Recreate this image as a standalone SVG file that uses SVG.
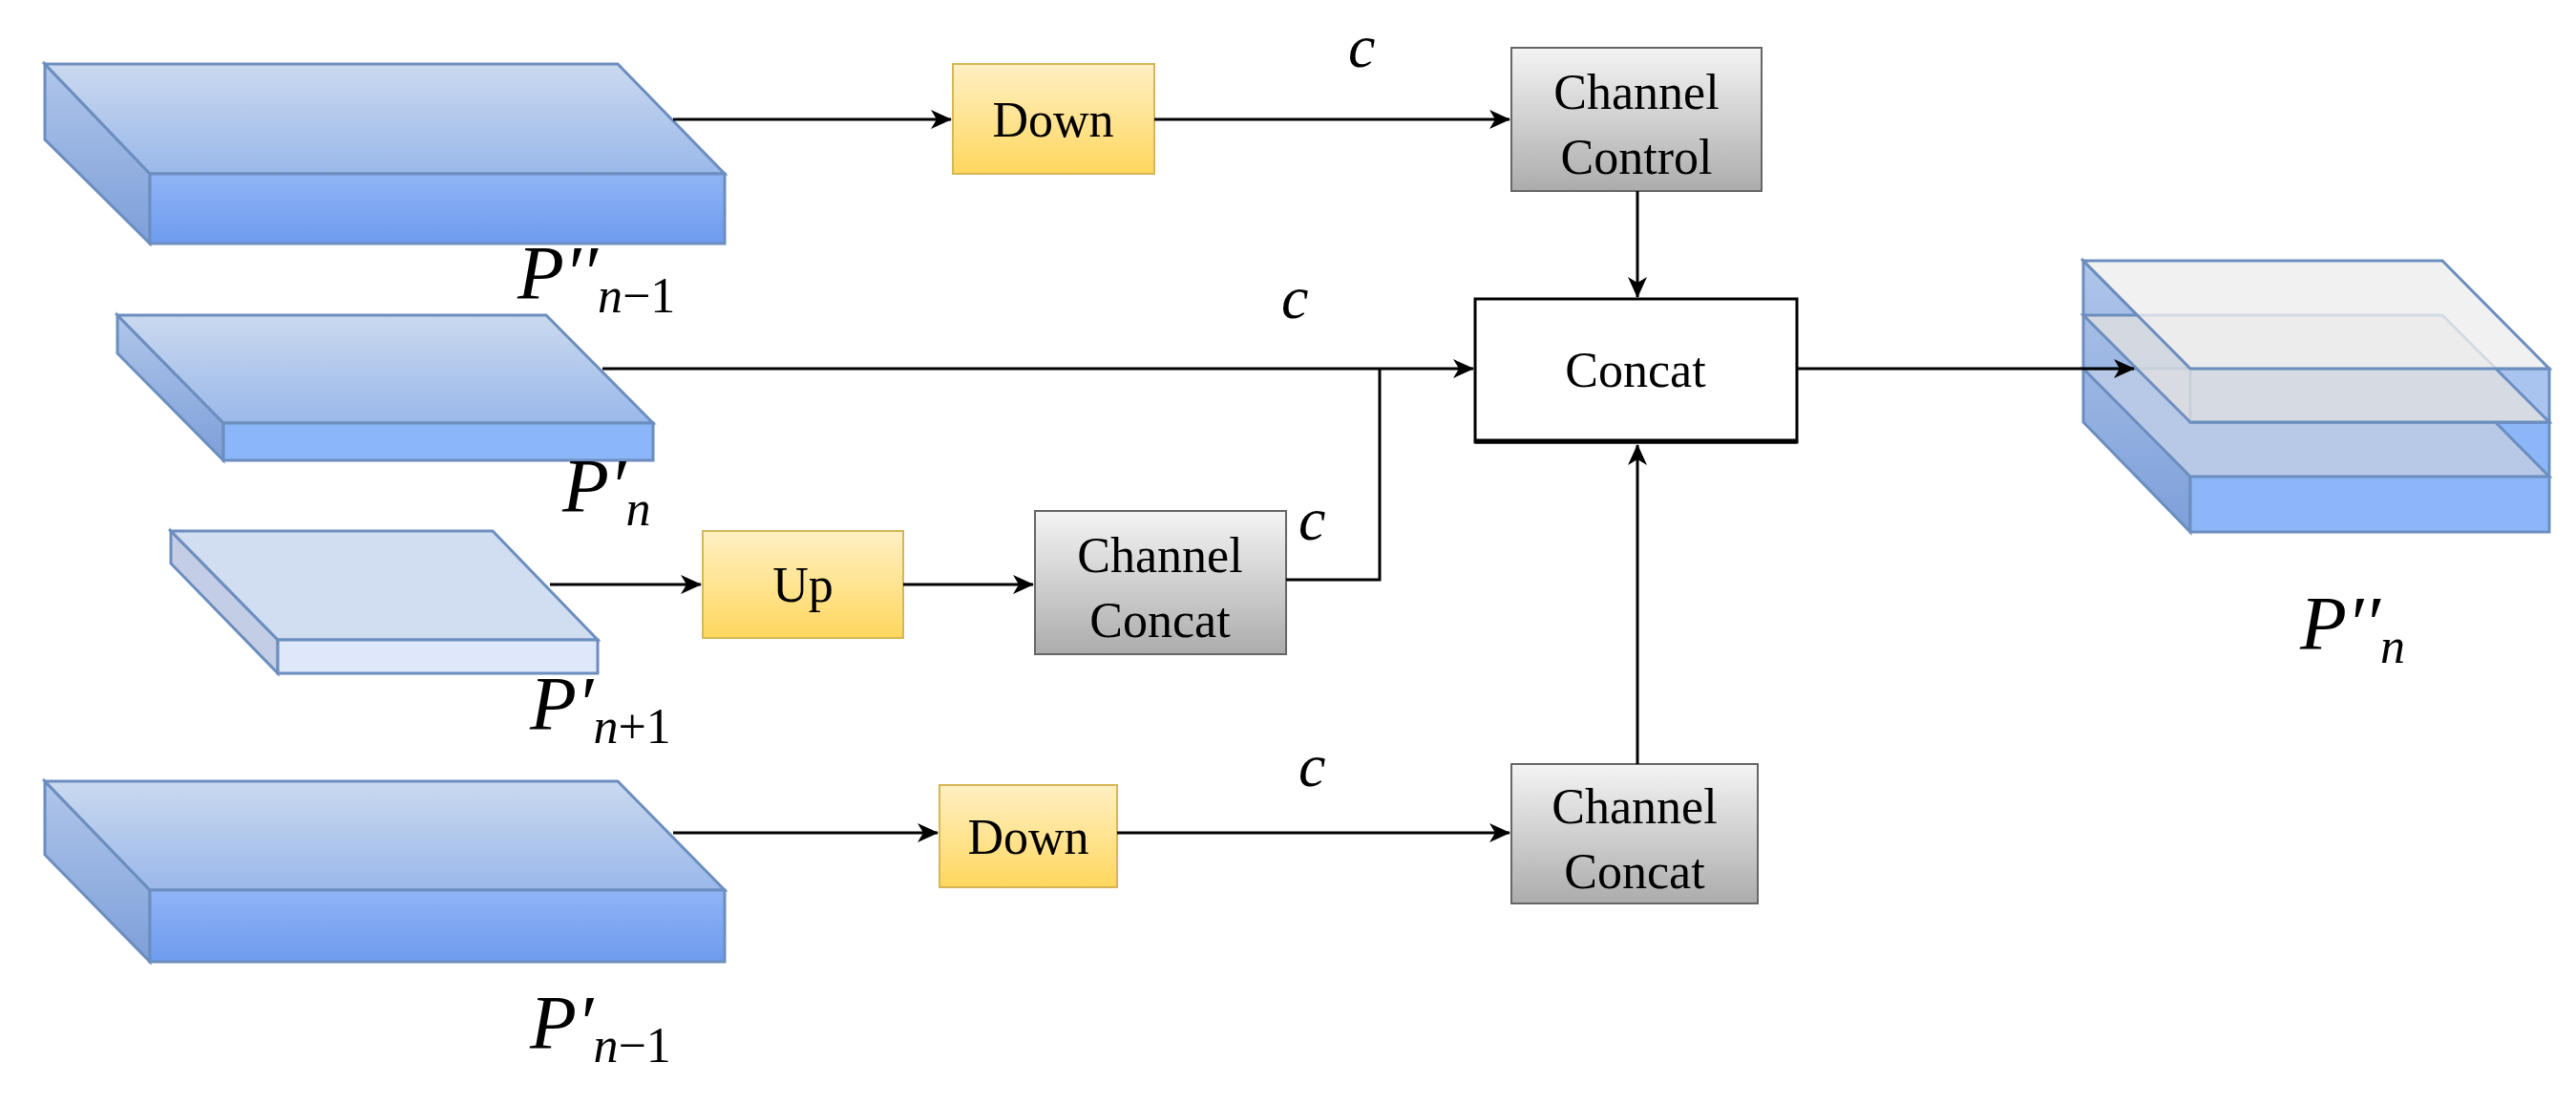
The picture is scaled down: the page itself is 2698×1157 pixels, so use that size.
<svg xmlns="http://www.w3.org/2000/svg" width="2698" height="1157" viewBox="0 0 2698 1157">
<defs>
<linearGradient id="gTop" x1="0" y1="0" x2="0" y2="1"><stop offset="0" stop-color="#cad9ef"/><stop offset="1" stop-color="#9ab8ea"/></linearGradient>
<linearGradient id="gFront" x1="0" y1="0" x2="0" y2="1"><stop offset="0" stop-color="#90b4f6"/><stop offset="1" stop-color="#6e9bee"/></linearGradient>
<linearGradient id="gSide" x1="0" y1="0" x2="0" y2="1"><stop offset="0" stop-color="#b0c6ea"/><stop offset="1" stop-color="#7d9fd9"/></linearGradient>
<linearGradient id="gY" x1="0" y1="0" x2="0" y2="1"><stop offset="0" stop-color="#fff0c4"/><stop offset="1" stop-color="#ffd75e"/></linearGradient>
<linearGradient id="gG" x1="0" y1="0" x2="0" y2="1"><stop offset="0" stop-color="#f4f4f4"/><stop offset="1" stop-color="#acacac"/></linearGradient>
<marker id="ah" markerWidth="22" markerHeight="20" refX="21" refY="10" orient="auto" markerUnits="userSpaceOnUse"><path d="M0,0 L22,10 L0,20 L6,10 Z" fill="#000"/></marker>
</defs>
<style>
.blk{stroke:#6c8ebf;stroke-width:3}
.yb{fill:url(#gY);stroke:#d6b656;stroke-width:2}
.gb{fill:url(#gG);stroke:#666;stroke-width:2}
.t{font-family:"Liberation Serif",serif;font-size:52px;fill:#000;text-anchor:middle}
.m{font-family:"Liberation Serif",serif;font-style:italic;fill:#000}
.c{font-family:"Liberation Serif",serif;font-style:italic;font-size:64px;fill:#000}
.ln{stroke:#000;stroke-width:3;fill:none}
</style>
<rect width="2698" height="1157" fill="#fff"/>
<g id="block1">
<polygon class="blk" fill="url(#gSide)" points="47,67 157,182 157,255 47,146"/>
<polygon class="blk" fill="url(#gTop)" points="47,67 647,67 759,182 157,182"/>
<rect class="blk" fill="url(#gFront)" x="157" y="182" width="602" height="73"/>
<text class="m" x="542" y="313" font-size="80">P′′<tspan font-size="52" dy="14">n<tspan font-style="normal">−1</tspan></tspan></text>
</g>
<g id="block2">
<polygon class="blk" fill="url(#gSide)" points="123,330 234,443 234,482 123,370"/>
<polygon class="blk" fill="url(#gTop)" points="123,330 572,330 684,443 234,443"/>
<rect class="blk" fill="#8bb6f7" x="234" y="443" width="450" height="39"/>
<text class="m" x="589" y="536" font-size="80">P′<tspan font-size="52" dy="14">n</tspan></text>
</g>
<g id="block3">
<polygon class="blk" fill="#c3cde6" points="179,556 291,670 291,705 179,590"/>
<polygon class="blk" fill="#d1ddf1" points="179,556 516,556 626,670 291,670"/>
<rect class="blk" fill="#dfe8fb" x="291" y="670" width="335" height="35"/>
<text class="m" x="555" y="764" font-size="80">P′<tspan font-size="52" dy="14">n<tspan font-style="normal">+1</tspan></tspan></text>
</g>
<g id="block4">
<polygon class="blk" fill="url(#gSide)" points="47,818 157,932 157,1007 47,895"/>
<polygon class="blk" fill="url(#gTop)" points="47,818 647,818 759,932 157,932"/>
<rect class="blk" fill="url(#gFront)" x="157" y="932" width="602" height="75"/>
<text class="m" x="555" y="1098" font-size="80">P′<tspan font-size="52" dy="14">n<tspan font-style="normal">−1</tspan></tspan></text>
</g>
<g id="down1"><rect class="yb" x="998" y="67" width="211" height="115"/><text class="t" x="1103" y="143">Down</text></g>
<g id="down2"><rect class="yb" x="984" y="822" width="186" height="107"/><text class="t" x="1077" y="894">Down</text></g>
<g id="up"><rect class="yb" x="736" y="556" width="210" height="112"/><text class="t" x="841" y="630">Up</text></g>
<g id="chcontrol"><rect class="gb" x="1583" y="50" width="262" height="150"/><text class="t" x="1714" y="114">Channel</text><text class="t" x="1714" y="182">Control</text></g>
<g id="chconcat1"><rect class="gb" x="1084" y="535" width="263" height="150"/><text class="t" x="1215" y="599">Channel</text><text class="t" x="1215" y="667">Concat</text></g>
<g id="chconcat2"><rect class="gb" x="1583" y="800" width="258" height="146"/><text class="t" x="1712" y="862">Channel</text><text class="t" x="1712" y="930">Concat</text></g>
<g id="concat"><rect x="1545" y="313" width="337" height="150" fill="#fff" stroke="#000" stroke-width="3"/><line x1="1545" y1="462" x2="1882" y2="462" stroke="#000" stroke-width="5"/><text class="t" x="1713" y="405">Concat</text></g>
<g id="output">
<polygon fill="url(#gSide)" stroke="#6c8ebf" stroke-width="3" points="2182,273 2294,386 2294,557 2182,442"/>
<rect fill="#8db6f8" stroke="#6c8ebf" stroke-width="3" x="2294" y="442" width="376" height="115"/>
<polygon fill="#b7c9e6" stroke="#6c8ebf" stroke-width="3" points="2182,386 2558,386 2670,499 2294,499"/>
<rect fill="#a9c4ef" stroke="#6c8ebf" stroke-width="3" x="2294" y="386" width="376" height="56"/>
<polygon fill="#e0e0e0" fill-opacity="0.8" stroke="#6c8ebf" stroke-width="3" points="2182,330 2558,330 2670,442 2294,442"/>
<polygon fill="#eeeeee" fill-opacity="0.8" stroke="#6c8ebf" stroke-width="3" points="2182,273 2558,273 2670,386 2294,386"/>
<text class="m" x="2409" y="680" font-size="80">P′′<tspan font-size="52" dy="14">n</tspan></text>
</g>
<g id="connectors">
<line class="ln" x1="705" y1="125" x2="996" y2="125" marker-end="url(#ah)"/>
<line class="ln" x1="1209" y1="125" x2="1581" y2="125" marker-end="url(#ah)"/>
<line class="ln" x1="1715" y1="200" x2="1715" y2="311" marker-end="url(#ah)" stroke-width="2"/>
<line class="ln" x1="631" y1="386" x2="1543" y2="386" marker-end="url(#ah)"/>
<polyline class="ln" points="1347,607 1445,607 1445,386" stroke-width="2"/>
<line class="ln" x1="576" y1="612" x2="734" y2="612" marker-end="url(#ah)"/>
<line class="ln" x1="946" y1="612" x2="1082" y2="612" marker-end="url(#ah)"/>
<line class="ln" x1="705" y1="872" x2="982" y2="872" marker-end="url(#ah)"/>
<line class="ln" x1="1170" y1="872" x2="1581" y2="872" marker-end="url(#ah)"/>
<line class="ln" x1="1715" y1="800" x2="1715" y2="466" marker-end="url(#ah)" stroke-width="2"/>
<line class="ln" x1="1882" y1="386" x2="2235" y2="386" marker-end="url(#ah)"/>
<text class="c" x="1412" y="70">c</text>
<text class="c" x="1342" y="333">c</text>
<text class="c" x="1360" y="565">c</text>
<text class="c" x="1360" y="823">c</text>
</g>
</svg>
